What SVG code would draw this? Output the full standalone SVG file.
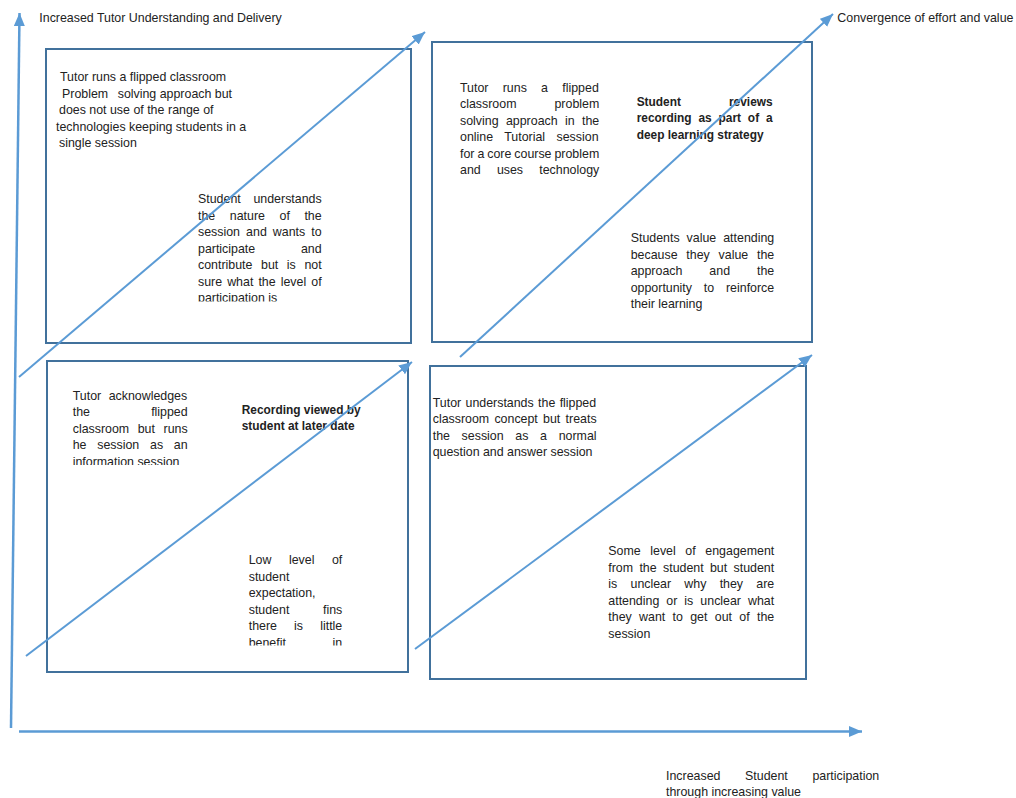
<svg xmlns="http://www.w3.org/2000/svg" width="1016" height="798" viewBox="0 0 1016 798">
<style>
.t{font-family:"Liberation Sans",Arial,sans-serif;font-size:12.4px;fill:#222}
.b{font-weight:bold;font-size:11.9px}
.box{fill:#fff;stroke:#41719C;stroke-width:2}
.ax{stroke:#5B9BD5;stroke-width:2.5;fill:none}
.dg{stroke:#5B9BD5;stroke-width:2;fill:none}
</style>
<defs>
<marker id="ah" markerUnits="userSpaceOnUse" markerWidth="14" markerHeight="12" refX="13" refY="5.5" orient="auto">
<path d="M0,0 L13,5.5 L0,11 z" fill="#5B9BD5"/>
</marker>
<clipPath id="c1"><rect x="190" y="185" width="140" height="116.6"/></clipPath>
<clipPath id="c3a"><rect x="65" y="380" width="130" height="85"/></clipPath>
<clipPath id="c3b"><rect x="240" y="545" width="110" height="100.5"/></clipPath>
</defs>

<g id="label-y">
<text class="t" x="39.3" y="22">Increased Tutor Understanding and Delivery</text>
</g>
<g id="label-convergence">
<text class="t" x="837.3" y="21.5">Convergence of effort and value</text>
</g>
<g id="label-x">
<text class="t" x="666" y="779.5" word-spacing="21.19">Increased Student participation</text>
<text class="t" x="666" y="795.5">through increasing value</text>
</g>

<g id="node-q1">
<rect class="box" x="46" y="49" width="365" height="294"/>
<text class="t" x="60" y="81">Tutor runs a flipped classroom</text>
<text class="t" y="97.5"><tspan x="62">Problem</tspan><tspan x="117.7">solving approach but</tspan></text>
<text class="t" y="114"><tspan x="59">does not use of the</tspan><tspan x="168">range of</tspan></text>
<text class="t" x="56" y="130.5">technologies keeping students in a</text>
<text class="t" x="59" y="147">single session</text>
<g clip-path="url(#c1)">
<text class="t" x="198" y="203.2" word-spacing="9.28">Student understands</text>
<text class="t" x="198" y="219.7" word-spacing="11.13">the nature of the</text>
<text class="t" x="198" y="236.2" word-spacing="2.64">session and wants to</text>
<text class="t" x="198" y="252.7" word-spacing="42.37">participate and</text>
<text class="t" x="198" y="269.2" word-spacing="5.16">contribute but is not</text>
<text class="t" x="198" y="285.7" word-spacing="1.63">sure what the level of</text>
<text class="t" x="198" y="302.2">participation is</text>
</g>
</g>

<g id="node-q2">
<rect class="box" x="432" y="42" width="380" height="300"/>
<text class="t" x="460" y="91.5" word-spacing="10.83">Tutor runs a flipped</text>
<text class="t" x="460" y="108" word-spacing="34.57">classroom problem</text>
<text class="t" x="460" y="124.5" word-spacing="3.93">solving approach in the</text>
<text class="t" x="460" y="141" word-spacing="7.97">online Tutorial session</text>
<text class="t" x="460" y="157.5" word-spacing="-0.49">for a core course problem</text>
<text class="t" x="460" y="174" word-spacing="12.78">and uses technology</text>
<text class="t b" x="636.7" y="105.5" word-spacing="44.74">Student reviews</text>
<text class="t b" x="636.7" y="122" word-spacing="3.58">recording as part of a</text>
<text class="t b" x="636.7" y="138.5">deep learning strategy</text>
<text class="t" x="630.7" y="242" word-spacing="3.56">Students value attending</text>
<text class="t" x="630.7" y="258.6" word-spacing="5.36">because they value the</text>
<text class="t" x="630.7" y="275.2" word-spacing="23.55">approach and the</text>
<text class="t" x="630.7" y="291.8" word-spacing="8.39">opportunity to reinforce</text>
<text class="t" x="630.7" y="308.4">their learning</text>
</g>

<g id="node-q3">
<rect class="box" x="47" y="361" width="361" height="311"/>
<g clip-path="url(#c3a)">
<text class="t" x="72.7" y="399.5" word-spacing="4.04">Tutor acknowledges</text>
<text class="t" x="72.7" y="416" word-spacing="57.78">the flipped</text>
<text class="t" x="72.7" y="432.5" word-spacing="5.13">classroom but runs</text>
<text class="t" x="72.7" y="449" word-spacing="7.32">he session as an</text>
<text class="t" x="72.7" y="465.5">information session</text>
</g>
<text class="t b" x="241.7" y="413.5">Recording viewed by</text>
<text class="t b" x="241.7" y="430">student at later date</text>
<g clip-path="url(#c3b)">
<text class="t" x="248.7" y="564.3" word-spacing="14.06">Low level of</text>
<text class="t" x="248.7" y="580.8">student</text>
<text class="t" x="248.7" y="597.3">expectation,</text>
<text class="t" x="248.7" y="613.8" word-spacing="30.18">student fins</text>
<text class="t" x="248.7" y="630.3" word-spacing="13.72">there is little</text>
<text class="t" x="248.7" y="646.8" word-spacing="43.28">benefit in</text>
</g>
</g>

<g id="node-q4">
<rect class="box" x="430" y="366" width="376" height="313"/>
<text class="t" x="432.7" y="406.7" word-spacing="0.91">Tutor understands the flipped</text>
<text class="t" x="432.7" y="423.2" word-spacing="1.83">classroom concept but treats</text>
<text class="t" x="432.7" y="439.7" word-spacing="8.26">the session as a normal</text>
<text class="t" x="432.7" y="456.2">question and answer session</text>
<text class="t" x="608.3" y="555" word-spacing="6.17">Some level of engagement</text>
<text class="t" x="608.3" y="571.5" word-spacing="2.9">from the student but student</text>
<text class="t" x="608.3" y="588" word-spacing="9.8">is unclear why they are</text>
<text class="t" x="608.3" y="604.5" word-spacing="3.59">attending or is unclear what</text>
<text class="t" x="608.3" y="621" word-spacing="3.88">they want to get out of the</text>
<text class="t" x="608.3" y="637.5">session</text>
</g>

<g id="connectors">
<line class="ax" x1="11" y1="728" x2="19.5" y2="13" marker-end="url(#ah)"/>
<line class="ax" x1="19" y1="731.5" x2="862" y2="731.5" marker-end="url(#ah)"/>
<line class="dg" x1="19" y1="377" x2="425" y2="32" marker-end="url(#ah)"/>
<line class="dg" x1="460" y1="357" x2="833" y2="14" marker-end="url(#ah)"/>
<line class="dg" x1="26" y1="656" x2="412" y2="362" marker-end="url(#ah)"/>
<line class="dg" x1="415" y1="649" x2="812" y2="355" marker-end="url(#ah)"/>
</g>
</svg>
